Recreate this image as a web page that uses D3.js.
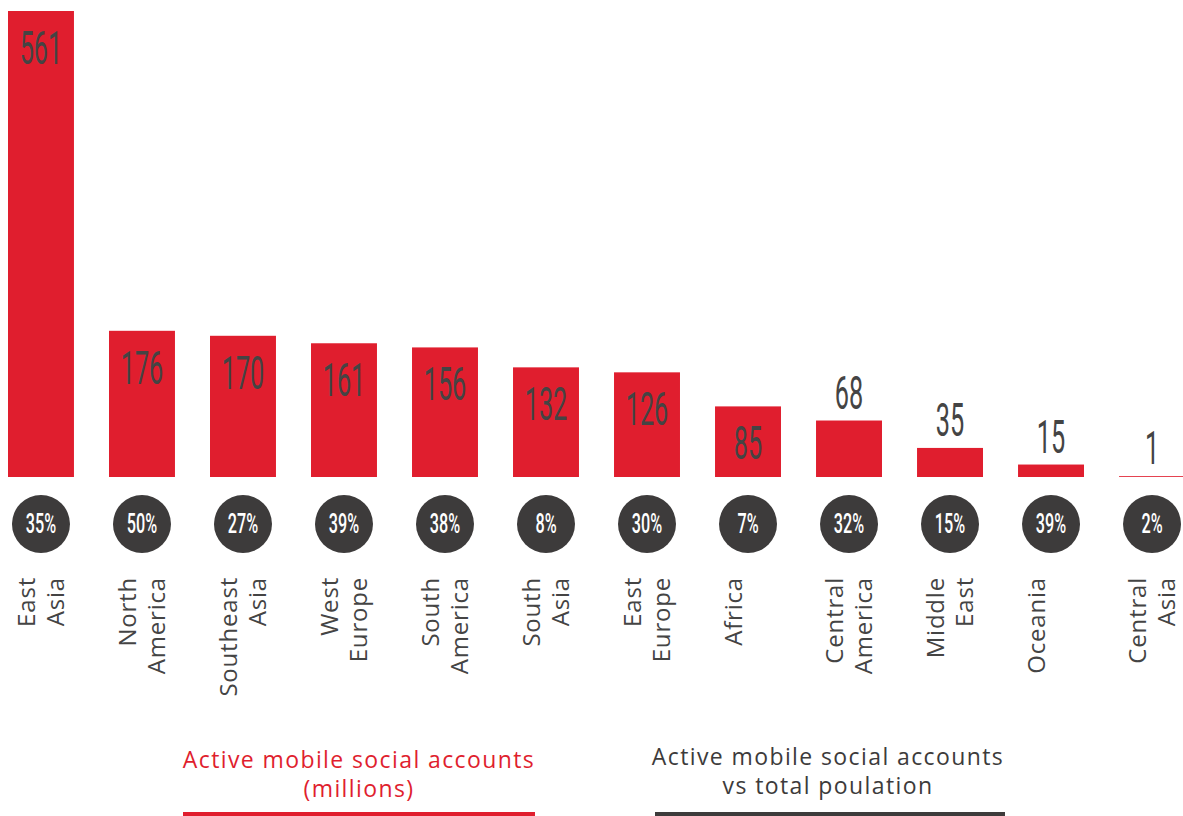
<!DOCTYPE html>
<html>
<head>
<meta charset="utf-8">
<script src="https://cdn.jsdelivr.net/npm/d3@7"></script>
<style>
  html, body { margin: 0; padding: 0; background: #fff; }
  svg { display: block; }
</style>
</head>
<body>
<svg id="chart"></svg>
<script>
// data
var regions = [
    ["East", "Asia"], ["North", "America"], ["Southeast", "Asia"], ["West", "Europe"],
    ["South", "America"], ["South", "Asia"], ["East", "Europe"], ["Africa"],
    ["Central", "America"], ["Middle", "East"], ["Oceania"], ["Central", "Asia"]
]
var accounts = [561, 176, 170, 161, 156, 132, 126, 85, 68, 35, 15, 1]
var shareOfPop = ["35%", "50%", "27%", "39%", "38%", "8%", "30%", "7%", "32%", "15%", "39%", "2%"]
var legendRed = ["Active mobile social accounts", "(millions)"]
var legendGrey = ["Active mobile social accounts", "vs total poulation"]

var red = "#e01e2e"
var dark = "#3d3b3b"
var width = 1183
var height = 816
var baseline = 477

var svg = d3.select("#chart")
    .attr("width", width)
    .attr("height", height)

var x = d3.scaleBand()
    .domain(d3.range(accounts.length))
    .range([8, 1185])
    .paddingInner(0.347)
    .paddingOuter(0)

var y = d3.scaleLinear()
    .domain([0, 561])
    .range([baseline, 11])

var cols = svg.selectAll("g.col")
    .data(accounts)
    .enter()
    .append("g")
    .attr("class", "col")

cols.append("rect")
    .attr("x", (d, i) => x(i))
    .attr("y", d => y(d))
    .attr("width", x.bandwidth())
    .attr("height", d => baseline - y(d))
    .attr("fill", red)

// value labels, inside the bar when it is tall enough
cols.append("text")
    .attr("transform", (d, i) => {
        let cx = x(i) + x.bandwidth() / 2
        let ty = (baseline - y(d) > 65) ? y(d) + 53 : y(d) - 12
        return "translate(" + cx + "," + ty + ") scale(0.55,1)"
    })
    .attr("text-anchor", "middle")
    .attr("font-family", "Roboto, 'Liberation Sans', sans-serif")
    .attr("font-size", 46)
    .attr("fill", "#444")
    .text(d => d)

// percentage circles
cols.append("circle")
    .attr("cx", (d, i) => x(i) + x.bandwidth() / 2)
    .attr("cy", 524)
    .attr("r", 29)
    .attr("fill", dark)

cols.append("text")
    .attr("transform", (d, i) => "translate(" + (x(i) + x.bandwidth() / 2) + ",533) scale(0.6,1)")
    .attr("text-anchor", "middle")
    .attr("font-family", "Roboto, 'Liberation Sans', sans-serif")
    .attr("font-weight", 500)
    .attr("font-size", 27)
    .attr("fill", "#fff")
    .text((d, i) => shareOfPop[i])

// rotated region names
var names = svg.selectAll("g.name")
    .data(regions)
    .enter()
    .append("g")
    .attr("class", "name")
    .attr("transform", (d, i) => "translate(" + (x(i) + 27) + ",577) rotate(-90)")

names.selectAll("text")
    .data(d => d)
    .enter()
    .append("text")
    .attr("x", 0)
    .attr("y", (d, j) => j * 29)
    .attr("text-anchor", "end")
    .attr("font-family", "'Open Sans', sans-serif")
    .attr("font-size", 24)
    .attr("letter-spacing", 0.8)
    .attr("fill", "#444")
    .text(d => d)

// legend
function legend(cx, lines, color, x1, x2, top) {
    let g = svg.append("g")
    g.selectAll("text")
        .data(lines)
        .enter()
        .append("text")
        .attr("x", cx)
        .attr("y", (d, j) => top + j * 29)
        .attr("text-anchor", "middle")
        .attr("font-family", "'Open Sans', sans-serif")
        .attr("font-size", 23)
        .attr("letter-spacing", 1.4)
        .attr("fill", color)
        .text(d => d)
    g.append("rect")
        .attr("x", x1)
        .attr("y", 812)
        .attr("width", x2 - x1)
        .attr("height", 4)
        .attr("fill", color)
}

legend(359, legendRed, red, 183, 535, 768)
legend(828, legendGrey, dark, 655, 1005, 765)
</script>
</body>
</html>
